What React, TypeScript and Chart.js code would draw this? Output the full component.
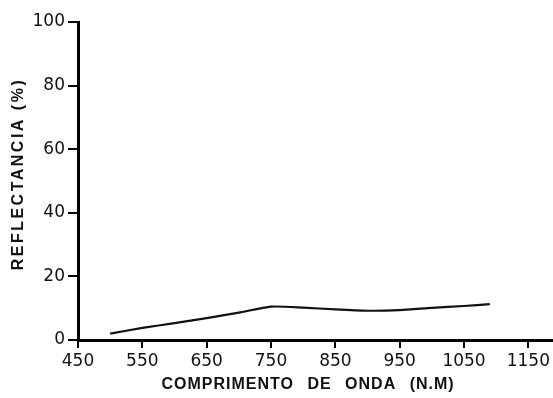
import React, { useEffect, useRef } from "react";
import { Chart, registerables } from "chart.js";

Chart.register(...registerables);

const wavelengths = [500, 550, 600, 650, 700, 750, 800, 850, 900, 950, 1000, 1050, 1090];
const reflectance = [2.0, 3.8, 5.3, 6.9, 8.6, 10.5, 10.2, 9.6, 9.2, 9.4, 10.1, 10.7, 11.3];
const xTickValues = [450, 550, 650, 750, 850, 950, 1050, 1150];
const yTickValues = [0, 20, 40, 60, 80, 100];
const xTitle = "COMPRIMENTO DE ONDA (N.M) ";
const yTitle = "  REFLECTANCIA (%)";

const titleSpacing: Record<string, { letter: string; word: string }> = {
  x: { letter: "1px", word: "8px" },
  y: { letter: "2.5px", word: "2px" },
};

const titleSpacingPlugin = {
  id: "titleSpacing",
  beforeDraw(chart: any) {
    for (const id of ["x", "y"]) {
      const s: any = chart.scales[id];
      if (s && !s.__patched) {
        const orig = s.drawTitle.bind(s);
        s.drawTitle = () => {
          const c: any = chart.ctx;
          c.save();
          c.letterSpacing = titleSpacing[id].letter;
          c.wordSpacing = titleSpacing[id].word;
          orig();
          c.restore();
        };
        s.__patched = true;
      }
    }
  },
};

export default function App() {
  const ref = useRef<HTMLCanvasElement | null>(null);
  useEffect(() => {
    if (!ref.current) return;
    const chart = new Chart(ref.current, {
      type: "line",
      data: {
        datasets: [
          {
            data: wavelengths.map((w, i) => ({ x: w, y: reflectance[i] })),
            borderColor: "#111",
            borderWidth: 2.2,
            pointRadius: 0,
            tension: 0.2,
            fill: false,
          },
        ],
      },
      plugins: [titleSpacingPlugin],
      options: {
        responsive: false,
        animation: false,
        layout: { padding: { top: 22, right: 0, left: 0, bottom: 0 } },
        plugins: { legend: { display: false }, tooltip: { enabled: false } },
        scales: {
          x: {
            type: "linear",
            min: 450,
            max: 1186,
            afterBuildTicks: (axis: any) => {
              axis.ticks = xTickValues.map((v) => ({ value: v }));
            },
            afterFit: (scale: any) => {
              scale.height = 58;
            },
            grid: {
              drawOnChartArea: false,
              drawTicks: true,
              tickLength: 8,
              color: "#000",
              lineWidth: 2,
            },
            border: { display: true, color: "#000", width: 3 },
            ticks: {
              color: "#111",
              padding: 3,
              maxRotation: 0,
              autoSkip: false,
              callback: (v: any) => String(v),
              font: { family: "DejaVu Sans", size: 17 },
            },
            title: {
              display: true,
              text: xTitle,
              color: "#111",
              padding: { top: 0, bottom: 4 },
              font: { family: "Liberation Sans", size: 16, weight: "bold" },
            },
          },
          y: {
            type: "linear",
            min: 0,
            max: 100,
            afterBuildTicks: (axis: any) => {
              axis.ticks = yTickValues.map((v) => ({ value: v }));
            },
            afterFit: (scale: any) => {
              scale.width = 78;
            },
            grid: {
              drawOnChartArea: false,
              drawTicks: true,
              tickLength: 10,
              color: "#000",
              lineWidth: 2,
            },
            border: { display: true, color: "#000", width: 3 },
            ticks: {
              color: "#111",
              padding: 3,
              callback: (v: any) => String(v),
              font: { family: "DejaVu Sans", size: 17 },
            },
            title: {
              display: true,
              text: yTitle,
              color: "#111",
              padding: { top: 9, bottom: 0 },
              font: { family: "Liberation Sans", size: 16, weight: "bold" },
            },
          },
        },
      },
    });
    return () => chart.destroy();
  }, []);
  return (
    <div style={{ position: "fixed", left: 0, top: 0, width: 553, height: 398, background: "#fff" }}>
      <canvas ref={ref} width={553} height={398} style={{ width: 553, height: 398 }} />
    </div>
  );
}
